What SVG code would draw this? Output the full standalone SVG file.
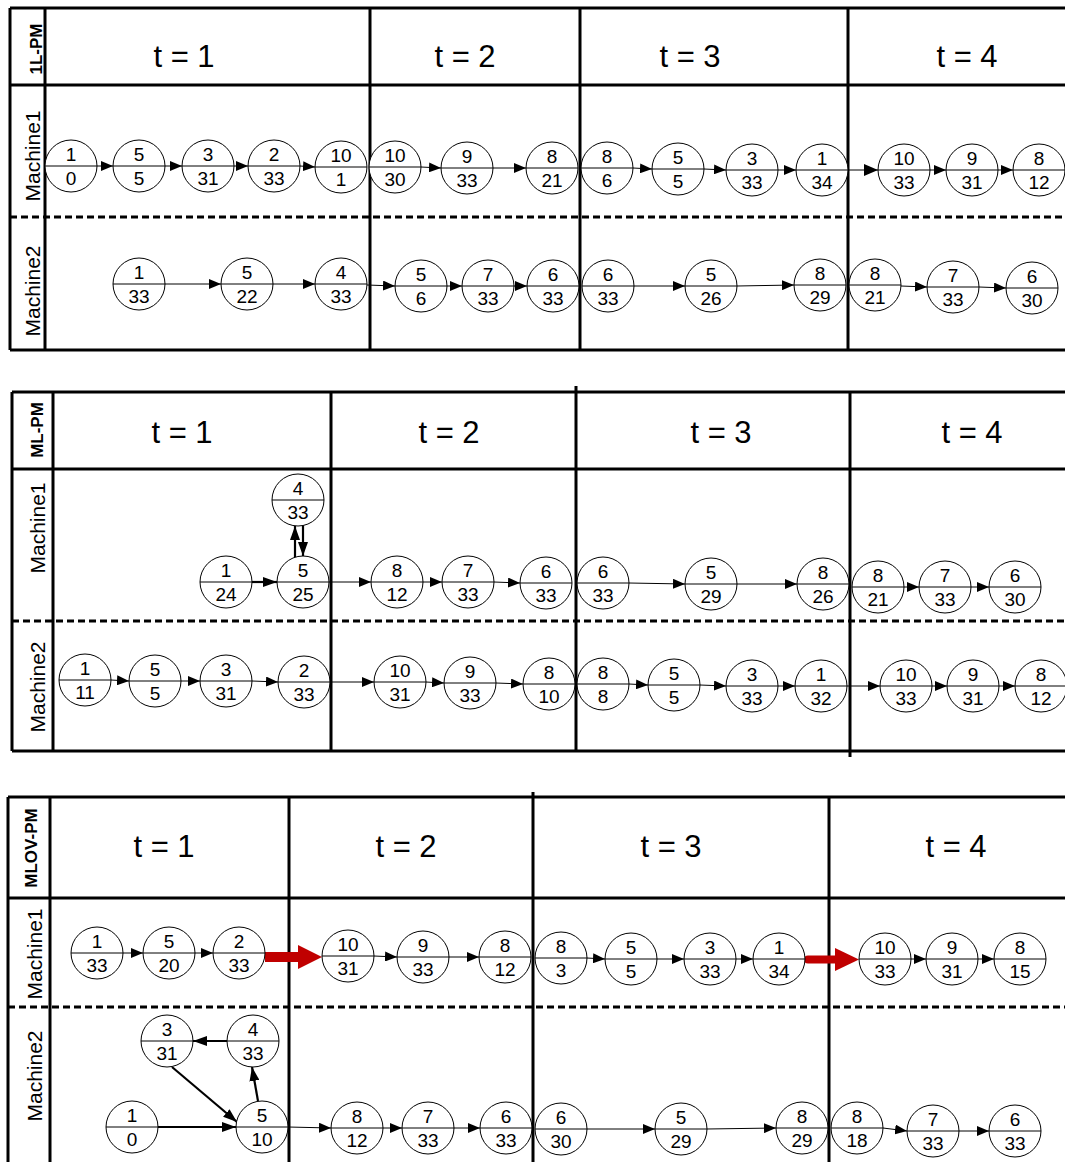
<svg xmlns="http://www.w3.org/2000/svg" width="1065" height="1162" viewBox="0 0 1065 1162">
<style>
.frame{stroke:#000;stroke-width:3;fill:none}
.dash{stroke:#000;stroke-width:3;stroke-dasharray:7 4;fill:none}
.node circle{fill:#fff;stroke:#000;stroke-width:1}
.node line{stroke:#000;stroke-width:1}
.node text{font-family:"Liberation Sans",Arial,sans-serif;font-size:19px;text-anchor:middle;fill:#000}
.hdr{font-family:"Liberation Sans",Arial,sans-serif;font-size:31px;text-anchor:middle;fill:#000}
.lab{font-family:"Liberation Sans",Arial,sans-serif;font-size:21px;text-anchor:middle;fill:#000}
.pm{font-family:"Liberation Sans",Arial,sans-serif;font-size:17px;font-weight:bold;text-anchor:middle;fill:#000}
.c{stroke:#000;stroke-width:1;fill:none;marker-end:url(#ah)}
.cb{stroke:#000;stroke-width:2.2;fill:none;marker-end:url(#ahb)}
.red{stroke:#C00000;fill:none}
</style>
<defs>
<marker id="ah" markerUnits="userSpaceOnUse" markerWidth="12" markerHeight="10" refX="12" refY="5" orient="auto"><path d="M0,0 L12,5 L0,10 Z" fill="#000"/></marker>
<marker id="ahb" markerUnits="userSpaceOnUse" markerWidth="14" markerHeight="10" refX="14" refY="5" orient="auto"><path d="M0,0 L14,5 L0,10 Z" fill="#000"/></marker>
<marker id="ahl" markerUnits="userSpaceOnUse" markerWidth="14" markerHeight="12" refX="14" refY="6" orient="auto"><path d="M0,0 L14,6 L0,12 Z" fill="#000"/></marker>
</defs>

<g id="frames">
<path class="frame" d="M10,8 H1065 M10,85 H1065 M10,350 H1065 M10,8 V350 M45,8 V350 M370,8 V350 M580,8 V350 M848,8 V350"/>
<path class="dash" d="M10,217 H1065"/>
<path class="frame" d="M12,392 H1065 M12,469 H1065 M12,751 H1065 M12,392 V751 M53,392 V751 M331,392 V751 M576,386 V751 M850,392 V757"/>
<path class="dash" d="M12,621 H1065"/>
<path class="frame" d="M8,797 H1065 M8,898 H1065 M8,797 V1162 M50,797 V1162 M289,797 V1162 M533,792 V1162 M829,797 V1162"/>
<path class="dash" d="M8,1007 H1065"/>
</g>

<g id="labels">
<text class="pm" x="42" y="49" transform="rotate(-90 42 49)">1L-PM</text>
<text class="lab" x="40" y="156" transform="rotate(-90 40 156)">Machine1</text>
<text class="lab" x="40" y="291" transform="rotate(-90 40 291)">Machine2</text>
<text class="pm" x="43" y="430" transform="rotate(-90 43 430)">ML-PM</text>
<text class="lab" x="45" y="528" transform="rotate(-90 45 528)">Machine1</text>
<text class="lab" x="45" y="687" transform="rotate(-90 45 687)">Machine2</text>
<text class="pm" x="37" y="848" transform="rotate(-90 37 848)">MLOV-PM</text>
<text class="lab" x="42" y="954" transform="rotate(-90 42 954)">Machine1</text>
<text class="lab" x="42" y="1076" transform="rotate(-90 42 1076)">Machine2</text>
<text class="hdr" x="184" y="67">t = 1</text>
<text class="hdr" x="465" y="67">t = 2</text>
<text class="hdr" x="690" y="67">t = 3</text>
<text class="hdr" x="967" y="67">t = 4</text>
<text class="hdr" x="182" y="443">t = 1</text>
<text class="hdr" x="449" y="443">t = 2</text>
<text class="hdr" x="721" y="443">t = 3</text>
<text class="hdr" x="972" y="443">t = 4</text>
<text class="hdr" x="164" y="857">t = 1</text>
<text class="hdr" x="406" y="857">t = 2</text>
<text class="hdr" x="671" y="857">t = 3</text>
<text class="hdr" x="956" y="857">t = 4</text>
</g>

<g id="connectors">
<!-- panel 1 machine 1 -->
<line class="c" x1="97" y1="166" x2="113" y2="166"/>
<line class="c" x1="165" y1="166" x2="182" y2="166"/>
<line class="c" x1="234" y1="166" x2="248" y2="166"/>
<line class="c" x1="300" y1="166" x2="315" y2="167"/>
<line class="c" x1="421" y1="167" x2="441" y2="168"/>
<line class="c" x1="493" y1="168" x2="526" y2="168"/>
<line class="c" x1="633" y1="168" x2="652" y2="169"/>
<line class="c" x1="704" y1="169" x2="726" y2="170"/>
<line class="c" x1="778" y1="170" x2="796" y2="170"/>
<line class="c" x1="848" y1="170" x2="878" y2="170" style="marker-end:url(#ahl)"/>
<line class="c" x1="930" y1="170" x2="946" y2="170"/>
<line class="c" x1="998" y1="170" x2="1013" y2="170"/>
<!-- panel 1 machine 2 -->
<line class="c" x1="165" y1="284" x2="221" y2="284"/>
<line class="c" x1="273" y1="284" x2="315" y2="284"/>
<line class="c" x1="367" y1="285" x2="395" y2="286"/>
<line class="c" x1="447" y1="286" x2="462" y2="286"/>
<line class="c" x1="514" y1="286" x2="527" y2="286"/>
<line class="c" x1="634" y1="286" x2="685" y2="286"/>
<line class="c" x1="737" y1="286" x2="794" y2="285"/>
<line class="c" x1="901" y1="286" x2="927" y2="287"/>
<line class="c" x1="979" y1="287" x2="1006" y2="288"/>
<!-- panel 2 machine 1 -->
<line class="cb" x1="252" y1="582" x2="277" y2="582"/>
<line class="cb" x1="295" y1="557" x2="295" y2="526"/>
<line class="cb" x1="303" y1="525" x2="303" y2="556"/>
<line class="c" x1="329" y1="582" x2="371" y2="582"/>
<line class="c" x1="423" y1="582" x2="442" y2="582"/>
<line class="c" x1="494" y1="582" x2="520" y2="583"/>
<line class="c" x1="629" y1="583" x2="685" y2="584"/>
<line class="c" x1="737" y1="584" x2="797" y2="584"/>
<line class="c" x1="904" y1="587" x2="919" y2="587"/>
<line class="c" x1="971" y1="587" x2="989" y2="587"/>
<!-- panel 2 machine 2 -->
<line class="c" x1="111" y1="680" x2="129" y2="681"/>
<line class="c" x1="181" y1="681" x2="200" y2="681"/>
<line class="c" x1="252" y1="681" x2="278" y2="682"/>
<line class="c" x1="330" y1="682" x2="374" y2="682"/>
<line class="c" x1="426" y1="682" x2="444" y2="683"/>
<line class="c" x1="496" y1="683" x2="523" y2="684"/>
<line class="c" x1="629" y1="684" x2="648" y2="685"/>
<line class="c" x1="700" y1="685" x2="726" y2="686"/>
<line class="c" x1="778" y1="686" x2="795" y2="686"/>
<line class="c" x1="847" y1="686" x2="880" y2="686"/>
<line class="c" x1="932" y1="686" x2="947" y2="686"/>
<line class="c" x1="999" y1="686" x2="1015" y2="686"/>
<!-- panel 3 machine 1 -->
<line class="c" x1="123" y1="953" x2="143" y2="953"/>
<line class="c" x1="195" y1="953" x2="213" y2="953"/>
<line class="red" x1="265" y1="957" x2="299" y2="957" stroke-width="10"/>
<path d="M298,945 L322,957 L298,969 Z" fill="#C00000"/>
<line class="c" x1="374" y1="956" x2="397" y2="957"/>
<line class="c" x1="449" y1="957" x2="479" y2="957"/>
<line class="c" x1="587" y1="958" x2="605" y2="959"/>
<line class="c" x1="657" y1="959" x2="684" y2="959"/>
<line class="c" x1="736" y1="959" x2="753" y2="959"/>
<line class="red" x1="808" y1="959.5" x2="836" y2="959.5" stroke-width="8" stroke-linecap="round"/>
<path d="M835,948 L859,959.5 L835,971 Z" fill="#C00000"/>
<line class="c" x1="911" y1="959" x2="926" y2="959"/>
<line class="c" x1="978" y1="959" x2="994" y2="959"/>
<!-- panel 3 machine 2 -->
<line class="cb" x1="227" y1="1041" x2="193" y2="1041"/>
<line class="cb" x1="172" y1="1067" x2="237" y2="1122"/>
<line class="cb" x1="258" y1="1101" x2="252" y2="1067"/>
<line class="cb" x1="158" y1="1127" x2="236" y2="1127"/>
<line class="c" x1="288" y1="1127" x2="331" y2="1128"/>
<line class="c" x1="383" y1="1128" x2="402" y2="1128"/>
<line class="c" x1="454" y1="1128" x2="480" y2="1128"/>
<line class="c" x1="587" y1="1129" x2="655" y2="1129"/>
<line class="c" x1="707" y1="1129" x2="776" y2="1128"/>
<line class="c" x1="883" y1="1128" x2="907" y2="1131"/>
<line class="c" x1="959" y1="1131" x2="989" y2="1131"/>
</g>

<g id="nodes">
<!-- panel 1 machine 1 -->
<g id="p1a1" class="node"><circle cx="71" cy="166" r="26"/><line x1="45" y1="166" x2="97" y2="166"/><text x="71" y="161">1</text><text x="71" y="185">0</text></g>
<g id="p1a2" class="node"><circle cx="139" cy="166" r="26"/><line x1="113" y1="166" x2="165" y2="166"/><text x="139" y="161">5</text><text x="139" y="185">5</text></g>
<g id="p1a3" class="node"><circle cx="208" cy="166" r="26"/><line x1="182" y1="166" x2="234" y2="166"/><text x="208" y="161">3</text><text x="208" y="185">31</text></g>
<g id="p1a4" class="node"><circle cx="274" cy="166" r="26"/><line x1="248" y1="166" x2="300" y2="166"/><text x="274" y="161">2</text><text x="274" y="185">33</text></g>
<g id="p1a5" class="node"><circle cx="341" cy="167" r="26"/><line x1="315" y1="167" x2="367" y2="167"/><text x="341" y="162">10</text><text x="341" y="186">1</text></g>
<g id="p1a6" class="node"><circle cx="395" cy="167" r="26"/><line x1="369" y1="167" x2="421" y2="167"/><text x="395" y="162">10</text><text x="395" y="186">30</text></g>
<g id="p1a7" class="node"><circle cx="467" cy="168" r="26"/><line x1="441" y1="168" x2="493" y2="168"/><text x="467" y="163">9</text><text x="467" y="187">33</text></g>
<g id="p1a8" class="node"><circle cx="552" cy="168" r="26"/><line x1="526" y1="168" x2="578" y2="168"/><text x="552" y="163">8</text><text x="552" y="187">21</text></g>
<g id="p1a9" class="node"><circle cx="607" cy="168" r="26"/><line x1="581" y1="168" x2="633" y2="168"/><text x="607" y="163">8</text><text x="607" y="187">6</text></g>
<g id="p1a10" class="node"><circle cx="678" cy="169" r="26"/><line x1="652" y1="169" x2="704" y2="169"/><text x="678" y="164">5</text><text x="678" y="188">5</text></g>
<g id="p1a11" class="node"><circle cx="752" cy="170" r="26"/><line x1="726" y1="170" x2="778" y2="170"/><text x="752" y="165">3</text><text x="752" y="189">33</text></g>
<g id="p1a12" class="node"><circle cx="822" cy="170" r="26"/><line x1="796" y1="170" x2="848" y2="170"/><text x="822" y="165">1</text><text x="822" y="189">34</text></g>
<g id="p1a13" class="node"><circle cx="904" cy="170" r="26"/><line x1="878" y1="170" x2="930" y2="170"/><text x="904" y="165">10</text><text x="904" y="189">33</text></g>
<g id="p1a14" class="node"><circle cx="972" cy="170" r="26"/><line x1="946" y1="170" x2="998" y2="170"/><text x="972" y="165">9</text><text x="972" y="189">31</text></g>
<g id="p1a15" class="node"><circle cx="1039" cy="170" r="26"/><line x1="1013" y1="170" x2="1065" y2="170"/><text x="1039" y="165">8</text><text x="1039" y="189">12</text></g>
<!-- panel 1 machine 2 -->
<g id="p1b1" class="node"><circle cx="139" cy="284" r="26"/><line x1="113" y1="284" x2="165" y2="284"/><text x="139" y="279">1</text><text x="139" y="303">33</text></g>
<g id="p1b2" class="node"><circle cx="247" cy="284" r="26"/><line x1="221" y1="284" x2="273" y2="284"/><text x="247" y="279">5</text><text x="247" y="303">22</text></g>
<g id="p1b3" class="node"><circle cx="341" cy="284" r="26"/><line x1="315" y1="284" x2="367" y2="284"/><text x="341" y="279">4</text><text x="341" y="303">33</text></g>
<g id="p1b4" class="node"><circle cx="421" cy="286" r="26"/><line x1="395" y1="286" x2="447" y2="286"/><text x="421" y="281">5</text><text x="421" y="305">6</text></g>
<g id="p1b5" class="node"><circle cx="488" cy="286" r="26"/><line x1="462" y1="286" x2="514" y2="286"/><text x="488" y="281">7</text><text x="488" y="305">33</text></g>
<g id="p1b6" class="node"><circle cx="553" cy="286" r="26"/><line x1="527" y1="286" x2="579" y2="286"/><text x="553" y="281">6</text><text x="553" y="305">33</text></g>
<g id="p1b7" class="node"><circle cx="608" cy="286" r="26"/><line x1="582" y1="286" x2="634" y2="286"/><text x="608" y="281">6</text><text x="608" y="305">33</text></g>
<g id="p1b8" class="node"><circle cx="711" cy="286" r="26"/><line x1="685" y1="286" x2="737" y2="286"/><text x="711" y="281">5</text><text x="711" y="305">26</text></g>
<g id="p1b9" class="node"><circle cx="820" cy="285" r="26"/><line x1="794" y1="285" x2="846" y2="285"/><text x="820" y="280">8</text><text x="820" y="304">29</text></g>
<g id="p1b10" class="node"><circle cx="875" cy="285" r="26"/><line x1="849" y1="285" x2="901" y2="285"/><text x="875" y="280">8</text><text x="875" y="304">21</text></g>
<g id="p1b11" class="node"><circle cx="953" cy="287" r="26"/><line x1="927" y1="287" x2="979" y2="287"/><text x="953" y="282">7</text><text x="953" y="306">33</text></g>
<g id="p1b12" class="node"><circle cx="1032" cy="288" r="26"/><line x1="1006" y1="288" x2="1058" y2="288"/><text x="1032" y="283">6</text><text x="1032" y="307">30</text></g>
<!-- panel 2 machine 1 -->
<g id="p2a0" class="node"><circle cx="298" cy="500" r="26"/><line x1="272" y1="500" x2="324" y2="500"/><text x="298" y="495">4</text><text x="298" y="519">33</text></g>
<g id="p2a1" class="node"><circle cx="226" cy="582" r="26"/><line x1="200" y1="582" x2="252" y2="582"/><text x="226" y="577">1</text><text x="226" y="601">24</text></g>
<g id="p2a2" class="node"><circle cx="303" cy="582" r="26"/><line x1="277" y1="582" x2="329" y2="582"/><text x="303" y="577">5</text><text x="303" y="601">25</text></g>
<g id="p2a3" class="node"><circle cx="397" cy="582" r="26"/><line x1="371" y1="582" x2="423" y2="582"/><text x="397" y="577">8</text><text x="397" y="601">12</text></g>
<g id="p2a4" class="node"><circle cx="468" cy="582" r="26"/><line x1="442" y1="582" x2="494" y2="582"/><text x="468" y="577">7</text><text x="468" y="601">33</text></g>
<g id="p2a5" class="node"><circle cx="546" cy="583" r="26"/><line x1="520" y1="583" x2="572" y2="583"/><text x="546" y="578">6</text><text x="546" y="602">33</text></g>
<g id="p2a6" class="node"><circle cx="603" cy="583" r="26"/><line x1="577" y1="583" x2="629" y2="583"/><text x="603" y="578">6</text><text x="603" y="602">33</text></g>
<g id="p2a7" class="node"><circle cx="711" cy="584" r="26"/><line x1="685" y1="584" x2="737" y2="584"/><text x="711" y="579">5</text><text x="711" y="603">29</text></g>
<g id="p2a8" class="node"><circle cx="823" cy="584" r="26"/><line x1="797" y1="584" x2="849" y2="584"/><text x="823" y="579">8</text><text x="823" y="603">26</text></g>
<g id="p2a9" class="node"><circle cx="878" cy="587" r="26"/><line x1="852" y1="587" x2="904" y2="587"/><text x="878" y="582">8</text><text x="878" y="606">21</text></g>
<g id="p2a10" class="node"><circle cx="945" cy="587" r="26"/><line x1="919" y1="587" x2="971" y2="587"/><text x="945" y="582">7</text><text x="945" y="606">33</text></g>
<g id="p2a11" class="node"><circle cx="1015" cy="587" r="26"/><line x1="989" y1="587" x2="1041" y2="587"/><text x="1015" y="582">6</text><text x="1015" y="606">30</text></g>
<!-- panel 2 machine 2 -->
<g id="p2b1" class="node"><circle cx="85" cy="680" r="26"/><line x1="59" y1="680" x2="111" y2="680"/><text x="85" y="675">1</text><text x="85" y="699">11</text></g>
<g id="p2b2" class="node"><circle cx="155" cy="681" r="26"/><line x1="129" y1="681" x2="181" y2="681"/><text x="155" y="676">5</text><text x="155" y="700">5</text></g>
<g id="p2b3" class="node"><circle cx="226" cy="681" r="26"/><line x1="200" y1="681" x2="252" y2="681"/><text x="226" y="676">3</text><text x="226" y="700">31</text></g>
<g id="p2b4" class="node"><circle cx="304" cy="682" r="26"/><line x1="278" y1="682" x2="330" y2="682"/><text x="304" y="677">2</text><text x="304" y="701">33</text></g>
<g id="p2b5" class="node"><circle cx="400" cy="682" r="26"/><line x1="374" y1="682" x2="426" y2="682"/><text x="400" y="677">10</text><text x="400" y="701">31</text></g>
<g id="p2b6" class="node"><circle cx="470" cy="683" r="26"/><line x1="444" y1="683" x2="496" y2="683"/><text x="470" y="678">9</text><text x="470" y="702">33</text></g>
<g id="p2b7" class="node"><circle cx="549" cy="684" r="26"/><line x1="523" y1="684" x2="575" y2="684"/><text x="549" y="679">8</text><text x="549" y="703">10</text></g>
<g id="p2b8" class="node"><circle cx="603" cy="684" r="26"/><line x1="577" y1="684" x2="629" y2="684"/><text x="603" y="679">8</text><text x="603" y="703">8</text></g>
<g id="p2b9" class="node"><circle cx="674" cy="685" r="26"/><line x1="648" y1="685" x2="700" y2="685"/><text x="674" y="680">5</text><text x="674" y="704">5</text></g>
<g id="p2b10" class="node"><circle cx="752" cy="686" r="26"/><line x1="726" y1="686" x2="778" y2="686"/><text x="752" y="681">3</text><text x="752" y="705">33</text></g>
<g id="p2b11" class="node"><circle cx="821" cy="686" r="26"/><line x1="795" y1="686" x2="847" y2="686"/><text x="821" y="681">1</text><text x="821" y="705">32</text></g>
<g id="p2b12" class="node"><circle cx="906" cy="686" r="26"/><line x1="880" y1="686" x2="932" y2="686"/><text x="906" y="681">10</text><text x="906" y="705">33</text></g>
<g id="p2b13" class="node"><circle cx="973" cy="686" r="26"/><line x1="947" y1="686" x2="999" y2="686"/><text x="973" y="681">9</text><text x="973" y="705">31</text></g>
<g id="p2b14" class="node"><circle cx="1041" cy="686" r="26"/><line x1="1015" y1="686" x2="1065" y2="686"/><text x="1041" y="681">8</text><text x="1041" y="705">12</text></g>
<!-- panel 3 machine 1 -->
<g id="p3a1" class="node"><circle cx="97" cy="953" r="26"/><line x1="71" y1="953" x2="123" y2="953"/><text x="97" y="948">1</text><text x="97" y="972">33</text></g>
<g id="p3a2" class="node"><circle cx="169" cy="953" r="26"/><line x1="143" y1="953" x2="195" y2="953"/><text x="169" y="948">5</text><text x="169" y="972">20</text></g>
<g id="p3a3" class="node"><circle cx="239" cy="953" r="26"/><line x1="213" y1="953" x2="265" y2="953"/><text x="239" y="948">2</text><text x="239" y="972">33</text></g>
<g id="p3a4" class="node"><circle cx="348" cy="956" r="26"/><line x1="322" y1="956" x2="374" y2="956"/><text x="348" y="951">10</text><text x="348" y="975">31</text></g>
<g id="p3a5" class="node"><circle cx="423" cy="957" r="26"/><line x1="397" y1="957" x2="449" y2="957"/><text x="423" y="952">9</text><text x="423" y="976">33</text></g>
<g id="p3a6" class="node"><circle cx="505" cy="957" r="26"/><line x1="479" y1="957" x2="531" y2="957"/><text x="505" y="952">8</text><text x="505" y="976">12</text></g>
<g id="p3a7" class="node"><circle cx="561" cy="958" r="26"/><line x1="535" y1="958" x2="587" y2="958"/><text x="561" y="953">8</text><text x="561" y="977">3</text></g>
<g id="p3a8" class="node"><circle cx="631" cy="959" r="26"/><line x1="605" y1="959" x2="657" y2="959"/><text x="631" y="954">5</text><text x="631" y="978">5</text></g>
<g id="p3a9" class="node"><circle cx="710" cy="959" r="26"/><line x1="684" y1="959" x2="736" y2="959"/><text x="710" y="954">3</text><text x="710" y="978">33</text></g>
<g id="p3a10" class="node"><circle cx="779" cy="959" r="26"/><line x1="753" y1="959" x2="805" y2="959"/><text x="779" y="954">1</text><text x="779" y="978">34</text></g>
<g id="p3a11" class="node"><circle cx="885" cy="959" r="26"/><line x1="859" y1="959" x2="911" y2="959"/><text x="885" y="954">10</text><text x="885" y="978">33</text></g>
<g id="p3a12" class="node"><circle cx="952" cy="959" r="26"/><line x1="926" y1="959" x2="978" y2="959"/><text x="952" y="954">9</text><text x="952" y="978">31</text></g>
<g id="p3a13" class="node"><circle cx="1020" cy="959" r="26"/><line x1="994" y1="959" x2="1046" y2="959"/><text x="1020" y="954">8</text><text x="1020" y="978">15</text></g>
<!-- panel 3 machine 2 -->
<g id="p3b1" class="node"><circle cx="167" cy="1041" r="26"/><line x1="141" y1="1041" x2="193" y2="1041"/><text x="167" y="1036">3</text><text x="167" y="1060">31</text></g>
<g id="p3b2" class="node"><circle cx="253" cy="1041" r="26"/><line x1="227" y1="1041" x2="279" y2="1041"/><text x="253" y="1036">4</text><text x="253" y="1060">33</text></g>
<g id="p3b3" class="node"><circle cx="132" cy="1127" r="26"/><line x1="106" y1="1127" x2="158" y2="1127"/><text x="132" y="1122">1</text><text x="132" y="1146">0</text></g>
<g id="p3b4" class="node"><circle cx="262" cy="1127" r="26"/><line x1="236" y1="1127" x2="288" y2="1127"/><text x="262" y="1122">5</text><text x="262" y="1146">10</text></g>
<g id="p3b5" class="node"><circle cx="357" cy="1128" r="26"/><line x1="331" y1="1128" x2="383" y2="1128"/><text x="357" y="1123">8</text><text x="357" y="1147">12</text></g>
<g id="p3b6" class="node"><circle cx="428" cy="1128" r="26"/><line x1="402" y1="1128" x2="454" y2="1128"/><text x="428" y="1123">7</text><text x="428" y="1147">33</text></g>
<g id="p3b7" class="node"><circle cx="506" cy="1128" r="26"/><line x1="480" y1="1128" x2="532" y2="1128"/><text x="506" y="1123">6</text><text x="506" y="1147">33</text></g>
<g id="p3b8" class="node"><circle cx="561" cy="1129" r="26"/><line x1="535" y1="1129" x2="587" y2="1129"/><text x="561" y="1124">6</text><text x="561" y="1148">30</text></g>
<g id="p3b9" class="node"><circle cx="681" cy="1129" r="26"/><line x1="655" y1="1129" x2="707" y2="1129"/><text x="681" y="1124">5</text><text x="681" y="1148">29</text></g>
<g id="p3b10" class="node"><circle cx="802" cy="1128" r="26"/><line x1="776" y1="1128" x2="828" y2="1128"/><text x="802" y="1123">8</text><text x="802" y="1147">29</text></g>
<g id="p3b11" class="node"><circle cx="857" cy="1128" r="26"/><line x1="831" y1="1128" x2="883" y2="1128"/><text x="857" y="1123">8</text><text x="857" y="1147">18</text></g>
<g id="p3b12" class="node"><circle cx="933" cy="1131" r="26"/><line x1="907" y1="1131" x2="959" y2="1131"/><text x="933" y="1126">7</text><text x="933" y="1150">33</text></g>
<g id="p3b13" class="node"><circle cx="1015" cy="1131" r="26"/><line x1="989" y1="1131" x2="1041" y2="1131"/><text x="1015" y="1126">6</text><text x="1015" y="1150">33</text></g>
</g>
</svg>
